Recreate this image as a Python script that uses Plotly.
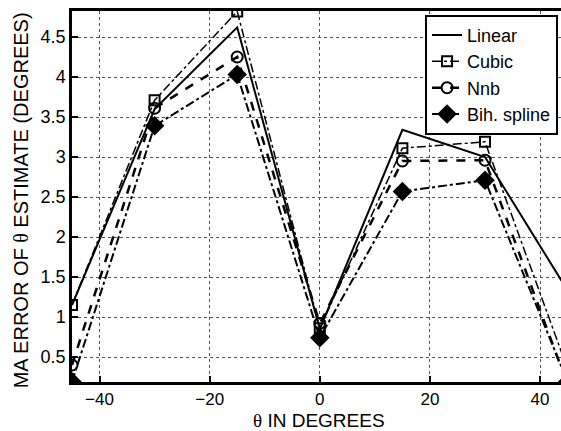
import plotly.graph_objects as go

theta = [-45, -30, -15, 0, 15, 30, 45]
linear = [1.15, 3.60, 4.62, 0.85, 3.34, 3.00, 1.33]
cubic = [1.15, 3.71, 4.82, 0.86, 3.11, 3.19, 0.35]
nnb = [0.40, 3.61, 4.25, 0.92, 2.95, 2.96, 0.15]
bih = [0.19, 3.39, 4.03, 0.74, 2.57, 2.71, 0.19]

x_ticks = [-40, -20, 0, 20, 40]
y_ticks = [0.5, 1, 1.5, 2, 2.5, 3, 3.5, 4, 4.5]
y_ticklabels = ["0.5", "1", "1.5", "2", "2.5", "3", "3.5", "4", "4.5"]

x_title = "<span style=\"font-family:Liberation Serif\">θ</span> IN DEGREES"
y_title = "MA ERROR OF <span style=\"font-family:Liberation Serif\">θ</span> ESTIMATE (DEGREES)"

fig = go.Figure()
fig.add_trace(go.Scatter(x=theta, y=linear, name="Linear", mode="lines",
                         line=dict(color="black", width=2, dash="solid")))
fig.add_trace(go.Scatter(x=theta, y=cubic, name="Cubic", mode="lines+markers",
                         line=dict(color="black", width=1.5, dash="dashdot"),
                         marker=dict(symbol="square-open", size=10, color="black",
                                     line=dict(width=2, color="black"))))
fig.add_trace(go.Scatter(x=theta, y=nnb, name="Nnb", mode="lines+markers",
                         line=dict(color="black", width=2.5, dash="dash"),
                         marker=dict(symbol="circle-open", size=11, color="black",
                                     line=dict(width=2, color="black"))))
fig.add_trace(go.Scatter(x=theta, y=bih, name="Bih. spline", mode="lines+markers",
                         line=dict(color="black", width=2, dash="dashdot"),
                         marker=dict(symbol="diamond", size=15, color="black")))

fam = "Liberation Sans, Arial, sans-serif"
fig.update_layout(
    width=561, height=431,
    margin=dict(l=72, r=0, t=11, b=49),
    paper_bgcolor="white", plot_bgcolor="white",
    font=dict(family=fam, size=18, color="black"),
    showlegend=True,
    legend=dict(x=0.994, y=0.99, xanchor="right", yanchor="top",
                bgcolor="white", bordercolor="black", borderwidth=2,
                font=dict(family=fam, size=18, color="black"),
                tracegroupgap=0, itemwidth=30),
    xaxis=dict(range=[-45, 43.8], tickmode="array", tickvals=x_ticks,
               tickfont=dict(size=17),
               showgrid=True, gridcolor="#555555", griddash="dot", gridwidth=1,
               showline=True, linecolor="black", linewidth=2.5, mirror=True,
               ticks="inside", ticklen=6, tickwidth=2, tickcolor="black",
               zeroline=False),
    yaxis=dict(range=[0.1875, 4.825], tickmode="array", tickvals=y_ticks,
               ticktext=y_ticklabels, tickfont=dict(size=18),
               showgrid=True, gridcolor="#555555", griddash="dot", gridwidth=1,
               showline=True, linecolor="black", linewidth=2.5, mirror=False,
               ticks="inside", ticklen=6, tickwidth=2, tickcolor="black",
               zeroline=False),
    annotations=[
        dict(text=x_title, xref="paper", yref="paper", x=0.506, y=-0.1025,
             xanchor="center", yanchor="middle", showarrow=False,
             font=dict(family=fam, size=19, color="black")),
        dict(text=y_title, xref="paper", yref="paper", x=-0.104, y=0.49,
             xanchor="center", yanchor="middle", showarrow=False, textangle=-90,
             font=dict(family=fam, size=20, color="black")),
    ],
)

fig.write_html("out.html")
